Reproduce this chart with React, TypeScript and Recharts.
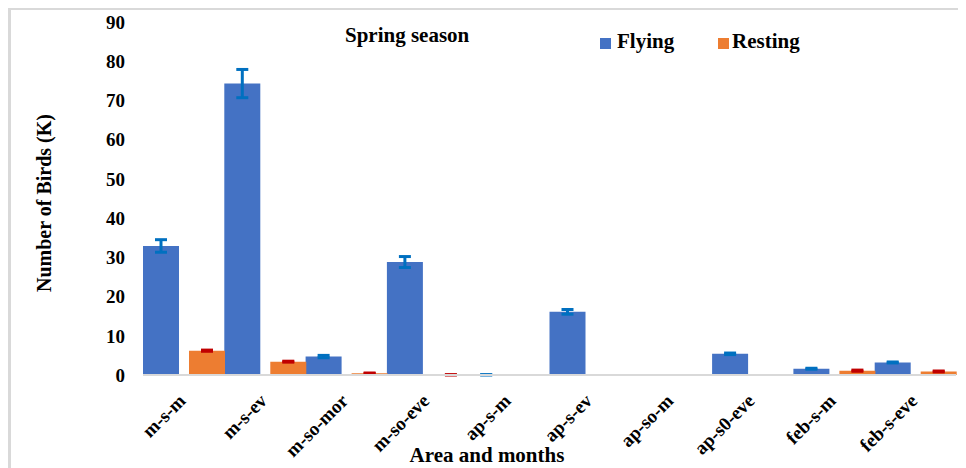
import React from 'react'
import { BarChart, Bar, XAxis, YAxis, ErrorBar } from 'recharts'

const categories = ['m-s-m', 'm-s-ev', 'm-so-mor', 'm-so-eve', 'ap-s-m', 'ap-s-ev', 'ap-so-m', 'ap-s0-eve', 'feb-s-m', 'feb-s-eve']
const flying = [32.9, 74.3, 4.7, 28.8, 0.05, 16.1, 0, 5.4, 1.6, 3.2]
const flyingErr = [1.6, 3.6, 0.3, 1.4, 0.02, 0.6, 0, 0.2, 0.12, 0.12]
const resting = [6.2, 3.4, 0.45, 0.05, 0, 0, 0, 0, 1.1, 0.9]
const restingErr = [0.15, 0.12, 0.06, 0.02, 0, 0, 0, 0, 0.15, 0.12]
const yTicks = [0, 10, 20, 30, 40, 50, 60, 70, 80, 90]

const data = categories.map((name, i) => ({
  name,
  flying: flying[i],
  flyingErr: flyingErr[i],
  resting: resting[i],
  restingErr: restingErr[i],
}))

const FONT = "'Liberation Serif', Tinos, 'Times New Roman', 'DejaVu Serif', serif"

function AreaTick({ x, y, payload }: any) {
  return (
    <text
      transform={`translate(${x + 3},${y + 27}) rotate(-45)`}
      textAnchor="end"
      style={{ fontFamily: FONT, fontWeight: 'bold', fontSize: 19 }}
      fill="#000"
    >
      {payload.value}
    </text>
  )
}

const txt: React.CSSProperties = { position: 'absolute', fontFamily: FONT, fontWeight: 'bold', color: '#000', lineHeight: 1, whiteSpace: 'nowrap' }

export default function App() {
  return (
    <div style={{ position: 'relative', width: 958, height: 460, background: '#fff', fontFamily: FONT }}>
      <BarChart
        width={958}
        height={460}
        data={data}
        margin={{ top: 14, right: 10, left: 0, bottom: 0 }}
        barCategoryGap={0}
        barGap={10}
        style={{ fontFamily: FONT }}
      >
        <XAxis
          dataKey="name"
          interval={0}
          height={93}
          tickLine={false}
          tickSize={0}
          tickMargin={0}
          axisLine={{ stroke: '#D9D9D9', strokeWidth: 2 }}
          tick={<AreaTick />}
        />
        <YAxis
          domain={[0, 90]}
          ticks={yTicks}
          width={135}
          axisLine={false}
          tickLine={false}
          tickSize={0}
          tickMargin={18}
          tick={{ fill: '#000', fontSize: 19, fontWeight: 'bold', style: { fontFamily: FONT } }}
        />
        <Bar dataKey="flying" fill="#4472C4" isAnimationActive={false}>
          <ErrorBar dataKey="flyingErr" direction="y" width={6} strokeWidth={3} stroke="#0070C0" />
        </Bar>
        <Bar dataKey="resting" fill="#ED7D31" isAnimationActive={false}>
          <ErrorBar dataKey="restingErr" direction="y" width={6} strokeWidth={3} stroke="#C00000" />
        </Bar>
      </BarChart>

      <div
        style={{
          position: 'absolute', left: 0, top: 0, width: 958, height: 460,
          borderLeft: '3px solid #D9D9D9', borderTop: '2px solid #D9D9D9',
          boxSizing: 'border-box', pointerEvents: 'none',
        }}
      />

      <div style={{ ...txt, left: 337, top: 17, fontSize: 21 }}>Spring season</div>

      <div style={{ position: 'absolute', left: 592, top: 30, width: 11, height: 11, background: '#4472C4' }} />
      <div style={{ ...txt, left: 609, top: 23, fontSize: 21 }}>Flying</div>
      <div style={{ position: 'absolute', left: 710, top: 30, width: 11, height: 11, background: '#ED7D31' }} />
      <div style={{ ...txt, left: 724, top: 23, fontSize: 21 }}>Resting</div>

      <div style={{ ...txt, left: 36, top: 195, fontSize: 20, transform: 'translate(-50%, -50%) rotate(-90deg)' }}>
        Number of Birds (K)
      </div>
      <div style={{ ...txt, left: 479, top: 437, fontSize: 21, transform: 'translateX(-50%)' }}>Area and months</div>
    </div>
  )
}
